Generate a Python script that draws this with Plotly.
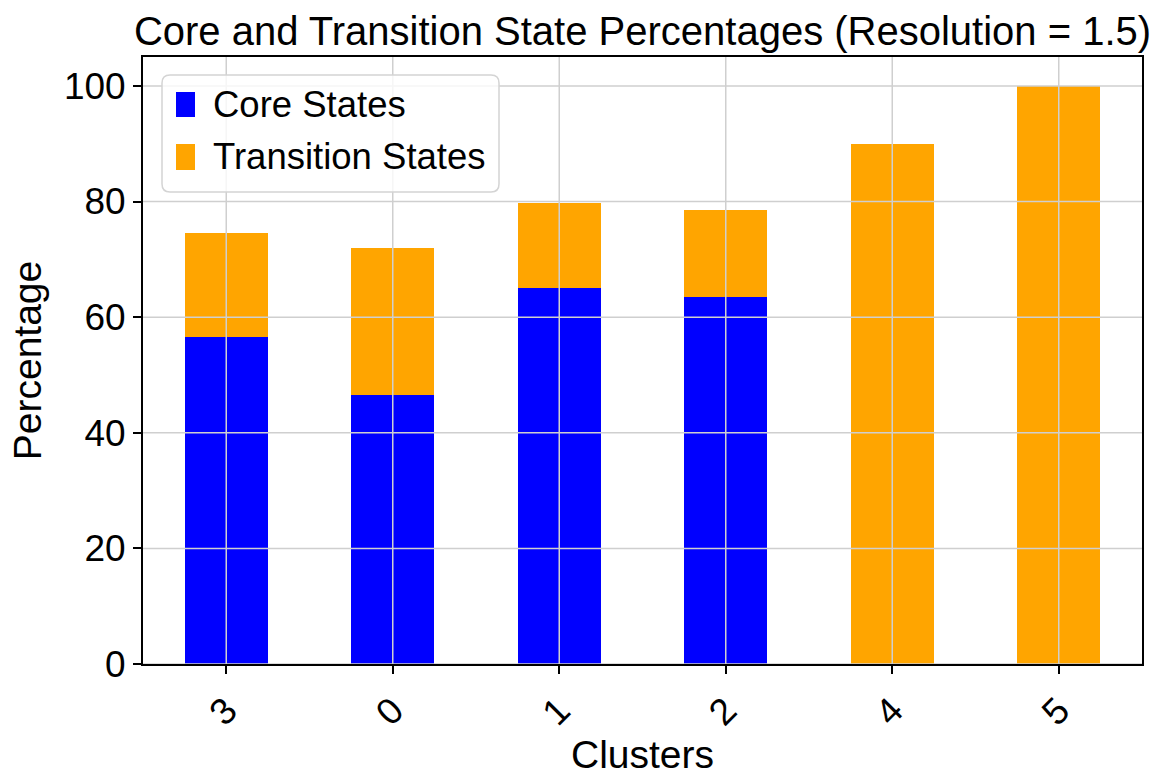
import plotly.graph_objects as go

clusters = ["3", "0", "1", "2", "4", "5"]
core_pct = [56.5, 46.6, 65.0, 63.4, 0.0, 0.0]
transition_pct = [18.0, 25.3, 14.8, 15.2, 90.0, 100.0]
y_ticks = [0, 20, 40, 60, 80, 100]

BLUE = "#0000ff"
ORANGE = "#ffa500"
FONT = "Liberation Sans, Arial, sans-serif"
W, H = 1167, 783
ML, MR, MT, MB = 143, 25, 57, 119
PW, PH = W - ML - MR, H - MT - MB

def px2paper(x, y):
    return (x - ML) / PW, (H - MB - y) / PH

fig = go.Figure()
fig.add_trace(go.Bar(x=list(range(len(clusters))), y=core_pct, name="Core States",
                     marker=dict(color=BLUE, line=dict(width=0)), width=0.5, showlegend=False))
fig.add_trace(go.Bar(x=list(range(len(clusters))), y=transition_pct, name="Transition States",
                     marker=dict(color=ORANGE, line=dict(width=0)), width=0.5, showlegend=False))

shapes = []
# grid lines drawn above bars (as in reference)
for i in range(len(clusters)):
    shapes.append(dict(type="line", xref="x", yref="paper", x0=i, x1=i, y0=0, y1=1,
                       line=dict(color="#cfcfcf", width=1.5), layer="above"))
for v in y_ticks:
    shapes.append(dict(type="line", xref="paper", yref="y", x0=0, x1=1, y0=v, y1=v,
                       line=dict(color="#cfcfcf", width=1.5), layer="above"))

# custom legend box (rounded)
x0, y0 = px2paper(162, 192)
x1, y1 = px2paper(499, 75)
rx, ry = 8 / PW, 8 / PH
path = (f"M {x0+rx},{y0} L {x1-rx},{y0} Q {x1},{y0} {x1},{y0+ry} "
        f"L {x1},{y1-ry} Q {x1},{y1} {x1-rx},{y1} L {x0+rx},{y1} Q {x0},{y1} {x0},{y1-ry} "
        f"L {x0},{y0+ry} Q {x0},{y0} {x0+rx},{y0} Z")
shapes.append(dict(type="path", xref="paper", yref="paper", path=path,
                   fillcolor="rgba(255,255,255,0.8)", line=dict(color="#d4d4d4", width=1.5),
                   layer="above"))
legend_items = [("Core States", BLUE, 92, 117), ("Transition States", ORANGE, 144, 170)]
annotations = []
for label, col, ya, yb in legend_items:
    ax0, ay0 = px2paper(176, yb)
    ax1, ay1 = px2paper(195, ya)
    shapes.append(dict(type="rect", xref="paper", yref="paper", x0=ax0, x1=ax1, y0=ay0, y1=ay1,
                       fillcolor=col, line=dict(width=0), layer="above"))
    tx, ty = px2paper(211, (ya + yb) / 2)
    annotations.append(dict(text=label, xref="paper", yref="paper", x=tx, y=ty,
                            xanchor="left", yanchor="middle", showarrow=False,
                            font=dict(family=FONT, size=36.5, color="black")))

fig.update_layout(
    width=W, height=H,
    margin=dict(l=ML, r=MR, t=MT, b=MB),
    paper_bgcolor="white", plot_bgcolor="white",
    barmode="stack", bargap=0,
    font=dict(family=FONT, color="black"),
    title=dict(text="Core and Transition State Percentages (Resolution = 1.5)",
               x=0.5, xref="paper", xanchor="center",
               y=1, yref="paper", yanchor="bottom", pad=dict(b=12),
               font=dict(family=FONT, size=40, color="black")),
    shapes=shapes, annotations=annotations,
    showlegend=False,
)
fig.update_xaxes(
    range=[-0.5, len(clusters) - 0.5],
    tickmode="array", tickvals=list(range(len(clusters))), ticktext=clusters,
    tickangle=-45, tickfont=dict(family=FONT, size=37, color="black"),
    showgrid=False, zeroline=False,
    showline=True, linecolor="black", linewidth=1.8, mirror=True,
    ticks="outside", ticklen=8, tickwidth=1.8, tickcolor="black",
    title=dict(text="Clusters", font=dict(family=FONT, size=39, color="black"), standoff=0),
)
fig.update_yaxes(
    range=[0, 105],
    tickmode="array", tickvals=y_ticks, ticktext=[str(v) for v in y_ticks],
    tickfont=dict(family=FONT, size=37, color="black"),
    showgrid=False, zeroline=False,
    showline=True, linecolor="black", linewidth=1.8, mirror=True,
    ticks="outside", ticklen=8, tickwidth=1.8, tickcolor="black",
    title=dict(text="Percentage", font=dict(family=FONT, size=39, color="black"), standoff=10),
)
fig.write_html("out.html")
